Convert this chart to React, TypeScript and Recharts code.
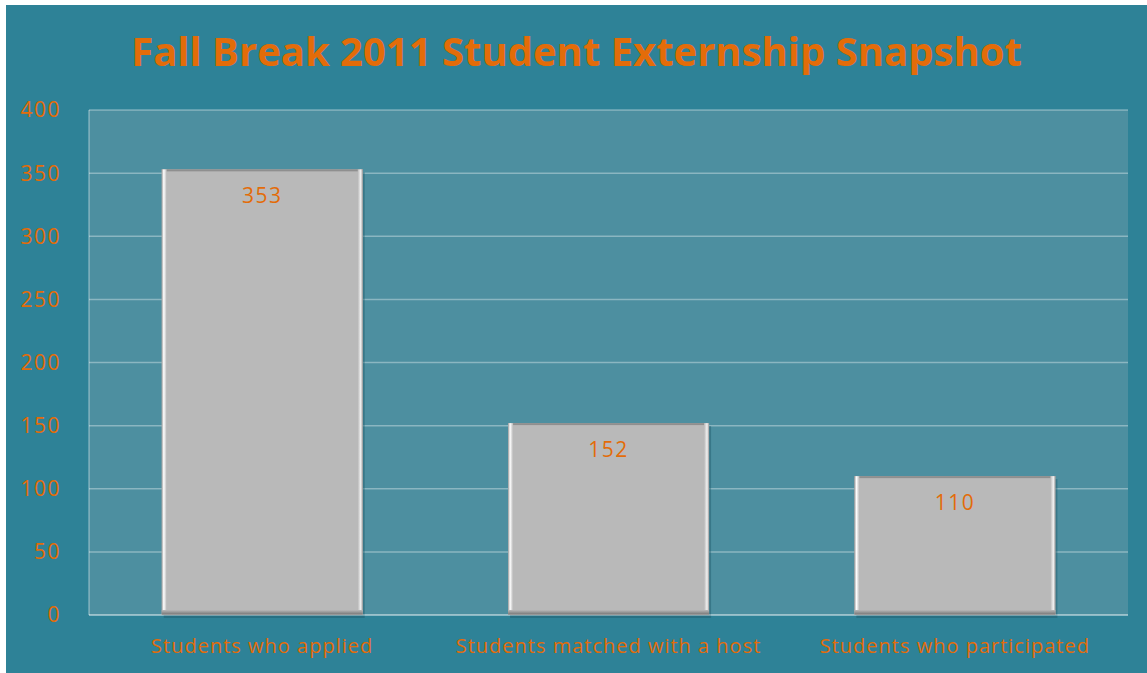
import { BarChart, Bar, XAxis, YAxis, CartesianGrid, LabelList } from 'recharts';

const categories = ['Students who applied', 'Students matched with a host', 'Students who participated'];
const students = [353, 152, 110];
const yTicks = [0, 50, 100, 150, 200, 250, 300, 350, 400];

const data = categories.map((name, i) => ({ name, value: students[i] }));

const ORANGE = '#E36C09';
const FONT = '"Open Sans", sans-serif';

function BevelBar(props: any) {
    const { x, y, width, height } = props;
    if (!height || height <= 0) return null;
    return (
        <g>
            <rect x={x + 2} y={y + 3} width={width} height={height} fill="#1f5a6a" opacity={0.45} />
            <rect x={x} y={y} width={width} height={height} fill="#B9B9B9" />
            <rect x={x} y={y} width={width} height={2} fill="#8f8f8f" />
            <rect x={x} y={y} width={5} height={height} fill="url(#leftHi)" />
            <rect x={x + width - 5} y={y} width={5} height={height} fill="url(#rightHi)" />
            <rect x={x} y={y + height - 5} width={width} height={5} fill="url(#bottomSh)" />
        </g>
    );
}

export default function App() {
    return (
        <div style={{ position: 'absolute', left: 6, top: 5, width: 1141, height: 668, background: '#2E8297' }}>
            <div style={{
                position: 'absolute', left: 0, right: 0, top: 22, textAlign: 'center',
                color: ORANGE, fontFamily: FONT, fontWeight: 700, fontSize: 40, lineHeight: '48px',
            }}>
                Fall Break 2011 Student Externship Snapshot
            </div>
            <BarChart width={1141} height={668} data={data}
                margin={{ top: 105, right: 19, bottom: 0, left: 0 }} barCategoryGap="21%">
                <defs>
                    <linearGradient id="leftHi" x1="0" y1="0" x2="1" y2="0">
                        <stop offset="0%" stopColor="#9a9a9a" />
                        <stop offset="40%" stopColor="#ffffff" />
                        <stop offset="100%" stopColor="#B9B9B9" />
                    </linearGradient>
                    <linearGradient id="rightHi" x1="0" y1="0" x2="1" y2="0">
                        <stop offset="0%" stopColor="#B9B9B9" />
                        <stop offset="60%" stopColor="#f2f2f2" />
                        <stop offset="100%" stopColor="#9a9a9a" />
                    </linearGradient>
                    <linearGradient id="bottomSh" x1="0" y1="0" x2="0" y2="1">
                        <stop offset="0%" stopColor="#B9B9B9" />
                        <stop offset="100%" stopColor="#6e6e6e" />
                    </linearGradient>
                </defs>
                <CartesianGrid vertical={false} fill="#4D8FA0" stroke="rgba(255,255,255,0.35)" strokeWidth={1.5} />
                <XAxis dataKey="name" height={58} tickLine={false} tickMargin={18}
                    axisLine={{ stroke: 'rgba(255,255,255,0.35)', strokeWidth: 1.5 }}
                    tick={{ fill: ORANGE, fontSize: 20, fontFamily: FONT, letterSpacing: 1 }} />
                <YAxis width={83} domain={[0, 400]} ticks={yTicks} tickLine={false} tickMargin={22}
                    axisLine={{ stroke: 'rgba(255,255,255,0.35)', strokeWidth: 1.5 }}
                    tick={{ fill: ORANGE, fontSize: 21, fontFamily: FONT, letterSpacing: 1.5 }} />
                <Bar dataKey="value" shape={<BevelBar />} isAnimationActive={false}>
                    <LabelList dataKey="value" position="insideTop" offset={19}
                        style={{ fill: ORANGE, fontSize: 21, fontFamily: FONT, letterSpacing: 1.5 }} />
                </Bar>
            </BarChart>
        </div>
    );
}
